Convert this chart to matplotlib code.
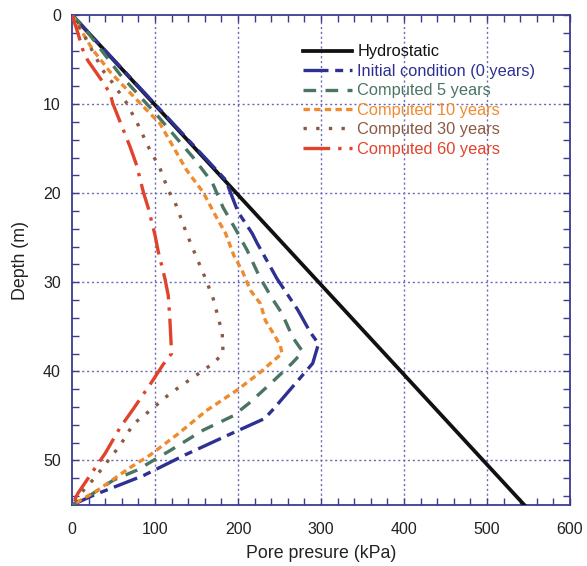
import matplotlib
matplotlib.use('Agg')
import matplotlib.pyplot as plt

plt.rcParams['font.family'] = ['Liberation Sans', 'DejaVu Sans']

# Datos (profundidad en m, presion en kPa)
hidro_d = [0, 55]
hidro_p = [0, 545]

ini_d = [0, 18.5, 22.1, 24.5, 25.6, 29.6, 33.1, 35.6, 36.9, 39.1, 44.2, 45.3, 46.9, 49.3, 51.7, 53.9, 55]
ini_p = [0, 185, 200, 217, 223, 247, 272, 287, 297, 290, 243, 232, 194, 138, 86, 26, 0]

c5_d = [0, 1.1, 6.7, 11.2, 16, 18.8, 21.6, 24.2, 26.4, 29.4, 31.8, 33.5, 36.2, 37.8, 39.1, 41.4, 43.6, 45, 46.6, 48.9, 51.1, 52.2, 53.9, 55]
c5_p = [0, 12, 58, 102, 146, 169, 182, 198, 211, 226, 241, 253, 266, 278, 265, 239, 213, 194, 158, 118, 78, 50, 22, 0]

c10_d = [0, 3.9, 6.4, 9.9, 12.2, 14.8, 17.4, 19.9, 22.7, 24.5, 27, 28.7, 30.9, 32.4, 34.3, 35.8, 37.1, 38, 39.1, 40.1, 42.1, 44.4, 47, 49.4, 50.8, 53.4, 55]
c10_p = [0, 25, 46, 82, 106, 122, 138, 158, 174, 185, 195, 205, 215, 227, 233, 243, 251, 253, 239, 227, 199, 162, 128, 94, 70, 30, 0]

c30_d = [0, 2, 6.2, 7.5, 9.9, 12.4, 14.8, 17.2, 19.7, 21, 24.5, 27.2, 29.4, 31.8, 33.9, 35.7, 38, 39.1, 39.9, 40.8, 42.5, 44.7, 45.9, 48.3, 50.8, 51.9, 53.1, 55]
c30_p = [0, 13, 37, 48, 66, 80, 92, 106, 116, 124, 138, 150, 160, 170, 176, 181, 182, 170, 158, 144, 118, 90, 74, 58, 37, 28, 16, 0]

c60_d = [0, 2, 3.9, 5.1, 7.1, 8.8, 9.9, 12, 14.8, 16.9, 19.9, 21.7, 24.7, 26.6, 29.6, 31.5, 34.3, 38, 39.2, 41.2, 44.2, 46.3, 49.2, 51.1, 53.7, 55]
c60_p = [0, 7, 13, 19, 34, 46, 49, 58, 70, 78, 86, 92, 100, 104, 112, 116, 118, 120, 110, 96, 74, 58, 40, 26, 7, 0]

etiquetas = ['Hydrostatic', 'Initial condition (0 years)', 'Computed 5 years',
             'Computed 10 years', 'Computed 30 years', 'Computed 60 years']

COLOR_EJE = '#3b3b8f'
COLOR_GRID = '#6a6ab4'
colores = ['#111111', '#2e3192', '#4a7563', '#f08a2e', '#8b5a44', '#e0432b']
estilos = ['-', (0, (7.5, 2, 2.4, 2)), (0, (3.8, 2.8)), (0, (1.9, 1.3)), (0, (1, 2.8)), (0, (8, 2.4, 1, 2.4))]

series = [(hidro_p, hidro_d), (ini_p, ini_d), (c5_p, c5_d), (c10_p, c10_d), (c30_p, c30_d), (c60_p, c60_d)]

fig = plt.figure(figsize=(5.87, 5.66), dpi=100)
ax = fig.add_axes([72 / 587, 1 - 505 / 566, 498 / 587, 490 / 566])

# Grid punteado
for xv in range(100, 600, 100):
    ax.axvline(xv, color=COLOR_GRID, lw=1, ls=(0, (1.5, 2)), zorder=1)
for yv in range(10, 55, 10):
    ax.axhline(yv, color=COLOR_GRID, lw=1, ls=(0, (1.5, 2)), zorder=1)

lineas = []
for (p, d), c, ls, lab in zip(series, colores, estilos, etiquetas):
    lw = 2.7 if lab == 'Hydrostatic' else 2.4
    l, = ax.plot(p, d, color=c, lw=lw, ls=ls, label=lab, zorder=3)
    lineas.append(l)

ax.set_xlim(0, 600)
ax.set_ylim(55, 0)
ax.set_xticks(range(0, 700, 100))
ax.set_yticks(range(0, 60, 10))
ax.set_xticks(range(0, 620, 20), minor=True)
ax.set_yticks(range(0, 56, 2), minor=True)

for s in ax.spines.values():
    s.set_color(COLOR_EJE)
    s.set_linewidth(1.3)

ax.tick_params(which='both', direction='in', top=True, right=True, color=COLOR_EJE,
               length=5, width=1)
ax.tick_params(axis='x', which='major', labelsize=11.5, labelcolor='#222222', pad=12)
ax.tick_params(axis='y', which='major', labelsize=11.5, labelcolor='#222222', pad=8)

ax.set_xlabel('Pore presure (kPa)', fontsize=12.8, color='#222222', labelpad=6)
ax.set_ylabel('Depth (m)', fontsize=12.8, color='#222222', labelpad=10)

leg = ax.legend(loc='upper left', bbox_to_anchor=(0.464, 0.94), frameon=False,
                fontsize=11.8, handlelength=3.0, handletextpad=0.3,
                labelspacing=0.27, borderpad=0, borderaxespad=0)
for txt, c in zip(leg.get_texts(), colores):
    txt.set_color(c)

fig.savefig('out.png', dpi=100)
